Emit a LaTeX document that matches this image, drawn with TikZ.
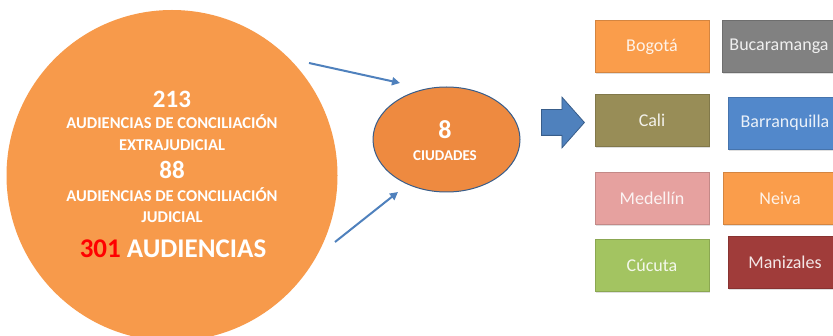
\documentclass[tikz,border=0pt]{standalone}
\usepackage{fontspec}
\setmainfont{Carlito}
\usepackage{xcolor}
\usepackage{tikz}
\usetikzlibrary{arrows.meta,shapes.geometric,shapes.arrows,shadows}
\definecolor{audorange}{HTML}{F79A4B}
\definecolor{ciuorange}{HTML}{EE8A40}
\definecolor{ciuborde}{HTML}{385D8A}
\definecolor{flechaazul}{HTML}{4F81BD}
\definecolor{rojotot}{HTML}{FF0000}
\definecolor{cbogota}{HTML}{FA9D4B}
\definecolor{cbucaramanga}{HTML}{818181}
\definecolor{ccali}{HTML}{988D57}
\definecolor{cbarranquilla}{HTML}{5288CB}
\definecolor{cmedellin}{HTML}{E6A19F}
\definecolor{cneiva}{HTML}{FA9D4B}
\definecolor{ccucuta}{HTML}{A3C461}
\definecolor{cmanizales}{HTML}{A03C3A}
\tikzset{
  audcirc/.style={circle,fill=audorange,minimum size=331pt,inner sep=0pt},
  audnum/.style={text=white,anchor=base,inner sep=0pt,font=\fontsize{25}{30}\selectfont\bfseries},
  audtxt/.style={text=white,anchor=base,inner sep=0pt,font=\fontsize{16.5}{19}\selectfont\bfseries},
  audtot/.style={text=white,anchor=base,inner sep=0pt,font=\fontsize{27}{32}\selectfont\bfseries},
  ciuelip/.style={ellipse,fill=ciuorange,draw=ciuborde,line width=1pt,minimum width=147pt,minimum height=105pt,inner sep=0pt},
  flujo/.style={-{Triangle[length=8pt,width=8pt]},draw=flechaazul,line width=2pt},
  bloque/.style={single arrow,fill=flechaazul,draw=ciuborde,line width=0.8pt,minimum height=43pt,inner xsep=0pt,inner ysep=12.5pt,single arrow head extend=12.5pt,single arrow tip angle=97},
  ciubox/.style={rectangle,fill=#1,draw=#1!85!black,line width=0.5pt,minimum width=114pt,minimum height=52pt,
    text=white,text opacity=0.88,font=\fontsize{18}{21}\selectfont,
    drop shadow={shadow xshift=1pt,shadow yshift=-2pt,opacity=0.25}}
}
\begin{document}
\begin{tikzpicture}[x=1pt,y=-1pt]
\useasboundingbox[fill=white] (0,0) rectangle (833,336);
% total de audiencias
\node[audcirc] (aud) at (172,175.5) {};
\node[audnum] (n213) at (172,108) {213};
\node[audtxt] (t213a) at (172,129) {AUDIENCIAS DE CONCILIACIÓN};
\node[audtxt] (t213b) at (172,151) {EXTRAJUDICIAL};
\node[audnum] (n88) at (172,179) {88};
\node[audtxt] (t88a) at (172,202) {AUDIENCIAS DE CONCILIACIÓN};
\node[audtxt] (t88b) at (172,223) {JUDICIAL};
\node[audtot] (ttot) at (173,258) {\textcolor{rojotot}{301} AUDIENCIAS};
% ciudades
\node[ciuelip] (ciu) at (446.5,139.5) {};
\node[audnum,font=\fontsize{26}{30}\selectfont\bfseries] (n8) at (445,139) {8};
\node[audtxt,font=\fontsize{15}{18}\selectfont\bfseries] (tciu) at (445,161) {CIUDADES};
\coordinate (f1a) at (309,63);
\coordinate (f1b) at (400,83);
\coordinate (f2a) at (335,242);
\coordinate (f2b) at (398,192);
\draw[flujo] (f1a) -- (f1b);
\draw[flujo] (f2a) -- (f2b);
\node[bloque,anchor=tail] (flecha) at (541,122.5) {};
% lista de ciudades
\node[ciubox=cbogota] (bog) at (652,46.5) {Bogotá};
\node[ciubox=cbucaramanga] (buc) at (779,46.5) {Bucaramanga};
\node[ciubox=ccali] (cal) at (652,120) {Cali};
\node[ciubox=cbarranquilla] (bar) at (785,123) {Barranquilla};
\node[ciubox=cmedellin] (med) at (652,198) {Medellín};
\node[ciubox=cneiva] (nei) at (780,198) {Neiva};
\node[ciubox=ccucuta] (cuc) at (652,265) {Cúcuta};
\node[ciubox=cmanizales] (man) at (785,262.5) {Manizales};
\end{tikzpicture}
\end{document}
